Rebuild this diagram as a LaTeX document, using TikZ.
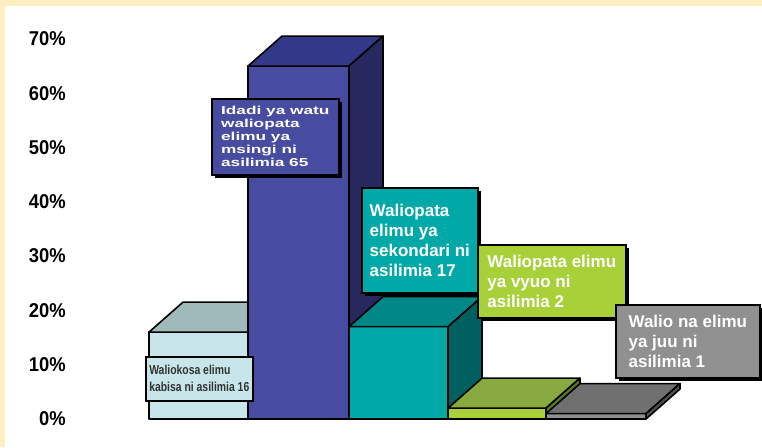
\documentclass[tikz,border=0pt]{standalone}
\usepackage{fontspec}
\setmainfont{Liberation Sans}
\newfontfamily\axisfont[FakeStretch=0.92]{Liberation Sans Bold}
\newfontfamily\wideboldfont[FakeStretch=1.5]{Liberation Sans Bold}
\newfontfamily\narrowfont[FakeStretch=0.8]{Liberation Sans Bold}
\usetikzlibrary{shadows}
\definecolor{cream}{HTML}{FFEEC0}
\definecolor{noneFront}{HTML}{C8E6EA}
\definecolor{noneTop}{HTML}{A0BABA}
\definecolor{primFront}{HTML}{484CA0}
\definecolor{primTop}{HTML}{343888}
\definecolor{primSide}{HTML}{26285E}
\definecolor{secFront}{HTML}{00A8A8}
\definecolor{secTop}{HTML}{008888}
\definecolor{secSide}{HTML}{006060}
\definecolor{collFront}{HTML}{A8D038}
\definecolor{collTop}{HTML}{88A840}
\definecolor{collSide}{HTML}{5A7A20}
\definecolor{highFront}{HTML}{909090}
\definecolor{highTop}{HTML}{707070}
\definecolor{highSide}{HTML}{505050}
% x left, x right, percent; front, top and side colours
\def\cuboid(#1,#2,#3)[#4][#5][#6]{%
\draw[bar edge, fill=#4] (#1,419) rectangle (#2,419-5.43*#3);
\draw[bar edge, fill=#5] (#1,419-5.43*#3) -- (#1+34,389-5.43*#3) -- (#2+34,389-5.43*#3) -- (#2,419-5.43*#3) -- cycle;
\draw[bar edge, fill=#6] (#2,419-5.43*#3) -- (#2+34,389-5.43*#3) -- (#2+34,389) -- (#2,419) -- cycle;}

\begin{document}
\begin{tikzpicture}[x=1pt, y=-1pt,
	bar edge/.style={draw=black, line width=1.6pt, line join=round},
	axis label/.style={anchor=east, inner sep=0pt, font=\axisfont\fontsize{20}{20}\selectfont},
	value box/.style={draw=black, line width=1.6pt, anchor=north west, align=left, inner sep=0pt, text=white,
		drop shadow={shadow xshift=3pt, shadow yshift=-3pt, fill=black, opacity=1}},
	big text/.style={font=\bfseries\fontsize{17}{20}\selectfont}]
	%%%%% START %%%%%
	
	\useasboundingbox (0,0) rectangle (762,447);
	\fill[cream] (0,0) rectangle (762,447);
	\fill[white] (5,6) rectangle (762,447);
	
	\node[axis label] (y70) at (66,38.9) {70\%};
	\node[axis label] (y60) at (66,93.2) {60\%};
	\node[axis label] (y50) at (66,147.5) {50\%};
	\node[axis label] (y40) at (66,201.8) {40\%};
	\node[axis label] (y30) at (66,256.1) {30\%};
	\node[axis label] (y20) at (66,310.4) {20\%};
	\node[axis label] (y10) at (66,364.7) {10\%};
	\node[axis label] (y0) at (66,419) {0\%};
	
	\cuboid(149,248,16)[noneFront][noneTop][noneTop]
	\cuboid(248,349,65)[primFront][primTop][primSide]
	\cuboid(349,448,17)[secFront][secTop][secSide]
	\cuboid(448,546,2)[collFront][collTop][collSide]
	\cuboid(546,646,1)[highFront][highTop][highSide]
	
	\node[draw=black, line width=1.6pt, fill=noneFront, anchor=north west, align=left, inner sep=0pt,
		minimum width=107pt, minimum height=44pt, text=black!80,
		font=\narrowfont\fontsize{13}{17}\selectfont] (none) at (145,356)
		{Waliokosa elimu\\kabisa ni asilimia 16};
	
	\node[value box, fill=primFront, minimum width=127pt, minimum height=76pt,
		font=\wideboldfont\fontsize{11.5}{13}\selectfont] (primary) at (211,98)
		{Idadi ya watu\\waliopata\\elimu ya\\msingi ni\\asilimia 65};
	
	\node[value box, big text, fill=secFront, minimum width=116pt, minimum height=105pt] (secondary) at (361,187)
		{Waliopata\\elimu ya\\sekondari ni\\asilimia 17};
	
	\node[value box, big text, fill=collFront, minimum width=148pt, minimum height=73pt] (college) at (477,244)
		{Waliopata elimu\\ya vyuo ni\\asilimia 2};
	
	\node[value box, big text, fill=highFront, minimum width=144pt, minimum height=73pt] (higher) at (615,304)
		{Walio na elimu\\ya juu ni\\asilimia 1};
	
	%%%%% END %%%%%
\end{tikzpicture}
\end{document}
